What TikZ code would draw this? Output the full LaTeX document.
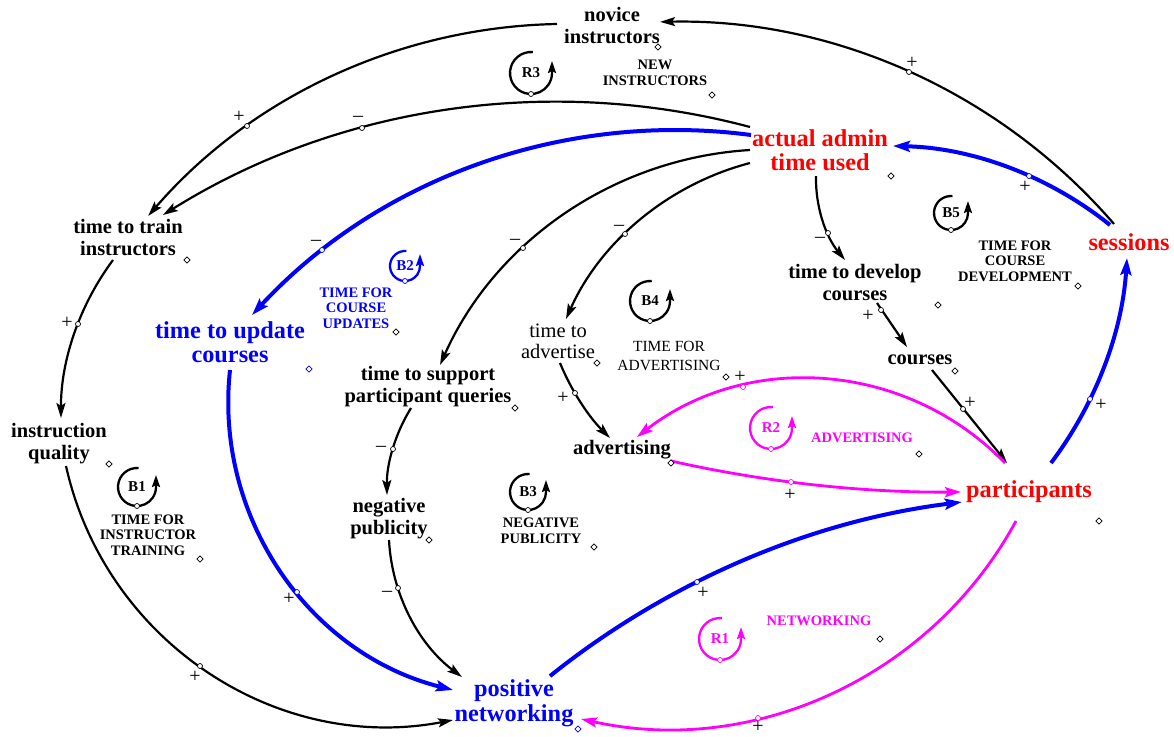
\documentclass[tikz,border=0pt]{standalone}
\usepackage{fontspec}
\setmainfont{Liberation Serif}
\usetikzlibrary{arrows.meta,calc}
\definecolor{vred}{RGB}{255,0,0}
\definecolor{vblue}{RGB}{0,0,255}
\definecolor{vmag}{RGB}{255,0,255}
\tikzset{
  lbl/.style={font=\bfseries\fontsize{20.5}{22}\selectfont, align=center, inner sep=0pt},
  lblr/.style={font=\fontsize{20.5}{21}\selectfont, align=center, inner sep=0pt},
  big/.style={font=\bfseries\fontsize{24.3}{24.5}\selectfont, align=center, inner sep=0pt},
  lname/.style={font=\bfseries\fontsize{14.5}{15.5}\selectfont, align=center, inner sep=0pt},
  lnamer/.style={font=\fontsize{15.5}{19}\selectfont, align=center, inner sep=0pt},
  lid/.style={font=\bfseries\fontsize{15}{15}\selectfont, inner sep=0pt},
  sgn/.style={font=\fontsize{20}{20}\selectfont, inner sep=0pt},
  hd/.style={circle, draw=#1, fill=white, line width=0.7pt, inner sep=0pt, minimum size=5pt},
  hd/.default=black,
  dm/.style={rectangle, rotate=45, draw=#1, fill=white, line width=0.7pt, inner sep=0pt, minimum size=4.5pt},
  dm/.default=black,
  barr/.style={line width=2.2pt, -{Stealth[length=15pt,width=9pt,inset=3pt]}},
  blarr/.style={vblue, line width=4pt, -{Stealth[length=17pt,width=11pt,inset=3pt]}},
  marr/.style={vmag, line width=2.8pt, -{Stealth[length=16pt,width=10pt,inset=3pt]}},
}
\newcommand{\mkloop}[6]{%
  \node[lid, text=#5] (#1) at (#2,#3) {#6};
  \draw[#5, line width=2.3pt, -{Stealth[length=12pt,width=8pt,inset=2pt]}] ($(#1)+(-85:#4)$) arc[start angle=-85, end angle=-360, radius=#4] -- ++(0,-12);
  \node[hd=#5] (#1h) at ($(#1)+(90:#4)$) {};
}
\begin{document}
\begin{tikzpicture}[x=1pt, y=-1pt]
\fill[white] (0,0) rectangle (1174,736);
\useasboundingbox (0,0) rectangle (1174,736);

% variables
\node[lbl] (nov) at (612,26) {novice\\instructors};
\node[big, text=vred] (act) at (820,150) {actual admin\\time used};
\node[big, text=vred] (ses) at (1129,242) {sessions};
\node[lbl] (ttt) at (128,238) {time to train\\instructors};
\node[big, text=vblue] (ttu) at (230,342) {time to update\\courses};
\node[lbl] (tsq) at (428,387) {time to support\\participant queries};
\node[lblr] (tta) at (558,341) {time to\\advertise};
\node[lbl] (tdc) at (855,283) {time to develop\\courses};
\node[lbl] (crs) at (920,360) {courses};
\node[lbl] (iq) at (59,444) {instruction\\quality};
\node[lbl] (np) at (389,519) {negative\\publicity};
\node[lbl] (adv) at (622,450) {advertising};
\node[big, text=vred] (par) at (1029,492) {participants};
\node[big, text=vblue] (pn) at (514,703) {positive\\networking};

% loop names
\node[lname] (newi) at (655,73) {NEW\\INSTRUCTORS};
\node[lname, text=vblue] (tcu) at (356,308) {TIME FOR\\COURSE\\UPDATES};
\node[lnamer] (tfa) at (669,356) {TIME FOR\\ADVERTISING};
\node[lname] (tcd) at (1015,261) {TIME FOR\\COURSE\\DEVELOPMENT};
\node[lname] (tit) at (148,535) {TIME FOR\\INSTRUCTOR\\TRAINING};
\node[lname] (npl) at (541,531) {NEGATIVE\\PUBLICITY};
\node[lname, text=vmag] (advl) at (862,438) {ADVERTISING};
\node[lname, text=vmag] (netl) at (819,621) {NETWORKING};

% loop markers
\mkloop{R3}{531}{73}{21}{black}{R3}
\mkloop{B2}{405}{266}{15}{vblue}{B2}
\mkloop{B4}{650}{301}{20}{black}{B4}
\mkloop{B5}{951}{213}{17}{black}{B5}
\mkloop{B1}{137}{487}{19}{black}{B1}
\mkloop{B3}{528}{492}{18}{black}{B3}
\mkloop{R2}{771}{428}{21}{vmag}{R2}
\mkloop{R1}{720}{639}{21}{vmag}{R1}

% connectors
\draw[barr] ($(ses)+(-15,-18)$) arc[start angle=-40.8, end angle=-91.2, radius=583.5];
\draw[barr] ($(nov)+(-55,-2)$) arc[start angle=-91.1, end angle=-139.2, radius=554.1];
\draw[barr] ($(act)+(-70,-23)$) arc[start angle=-75.06, end angle=-122.0, radius=745.3];
\draw[blarr] ($(act)+(-69,-15)$) arc[start angle=-82.48, end angle=-137.19, radius=577.2];
\draw[barr] ($(act)+(-70,0)$) arc[start angle=-93.45, end angle=-156.04, radius=363.1];
\draw[barr] ($(act)+(-70,13)$) arc[start angle=-104.65, end angle=-155.93, radius=278.76];
\draw[barr] ($(act)+(-4,26)$) arc[start angle=181.26, end angle=140.64, radius=128.03];
\draw[blarr] ($(ses)+(-19,-17)$) arc[start angle=-51.26, end angle=-88.73, radius=359.55];
\draw[barr] ($(tdc)+(22,20)$) -- ($(crs)+(-13,-13)$);
\draw[barr] ($(crs)+(12,10)$) -- ($(par)+(-22,-29)$);
\draw[blarr] ($(par)+(22,-29)$) arc[start angle=36.99, end angle=3.69, radius=381.45];
\draw[marr] ($(par)+(-24,-29)$) arc[start angle=-44.09, end angle=-127.83, radius=276.4];
\draw[marr] ($(adv)+(49,11)$) arc[start angle=102.66, end angle=89.54, radius=1276.5];
\draw[barr] ($(tta)+(2,22)$) arc[start angle=157.62, end angle=135, radius=229.8];
\draw[barr] ($(tsq)+(-17,21)$) arc[start angle=211.69, end angle=179.15, radius=161.06];
\draw[barr] ($(np)+(0,21)$) arc[start angle=177.05, end angle=126.85, radius=182.97];
\draw[blarr] ($(ttu)+(0,28)$) arc[start angle=186.2, end angle=104.06, radius=296.8];
\draw[barr] ($(iq)+(7,22)$) arc[start angle=167.41, end angle=79.15, radius=332.4];
\draw[barr] ($(ttt)+(-15,22)$) arc[start angle=216.64, end angle=179.8, radius=263.2];
\draw[blarr] ($(pn)+(36,-27)$) arc[start angle=-128.69, end angle=-97.1, radius=821.3];
\draw[marr] ($(par)+(-13,29)$) arc[start angle=28.49, end angle=102.57, radius=396.7];

% connector handles
\node[hd] (h1) at (909,72) {};
\node[hd] (h2) at (247,126) {};
\node[hd] (h3) at (362,128) {};
\node[hd=vblue] (h4) at (322,250) {};
\node[hd] (h5) at (523,248) {};
\node[hd] (h6) at (625,234) {};
\node[hd] (h7) at (828,233) {};
\node[hd=vblue] (h8) at (1029,176) {};
\node[hd] (h9) at (881,310) {};
\node[hd] (h10) at (963,409) {};
\node[hd=vblue] (h11) at (1090,399) {};
\node[hd=vmag] (h12) at (743,387) {};
\node[hd=vmag] (h13) at (791,482) {};
\node[hd] (h14) at (575,393) {};
\node[hd] (h15) at (393,449) {};
\node[hd] (h16) at (398,588) {};
\node[hd=vblue] (h17) at (297,592) {};
\node[hd] (h18) at (200,666) {};
\node[hd] (h19) at (78,324) {};
\node[hd=vblue] (h20) at (697,582) {};
\node[hd=vmag] (h21) at (758,718) {};

% polarity signs
\node[sgn] (s1) at (912,63) {+};
\node[sgn] (s2) at (239,117) {+};
\node[sgn] (s3) at (358,119) {–};
\node[sgn] (s4) at (316,243) {–};
\node[sgn] (s5) at (515,242) {–};
\node[sgn] (s6) at (619,228) {–};
\node[sgn] (s7) at (820,240) {–};
\node[sgn] (s8) at (1025,187) {+};
\node[sgn] (s9) at (868,316) {+};
\node[sgn] (s10) at (970,403) {+};
\node[sgn] (s11) at (1101,405) {+};
\node[sgn] (s12) at (740,377) {+};
\node[sgn] (s13) at (790,495) {+};
\node[sgn] (s14) at (563,398) {+};
\node[sgn] (s15) at (381,449) {–};
\node[sgn] (s16) at (387,594) {–};
\node[sgn] (s17) at (289,599) {+};
\node[sgn] (s18) at (195,677) {+};
\node[sgn] (s19) at (67,323) {+};
\node[sgn] (s20) at (703,593) {+};
\node[sgn] (s21) at (758,727) {+};

% variable handles
\node[dm] (d1) at (658,47) {};
\node[dm] (d2) at (712,95) {};
\node[dm] (d3) at (891,176) {};
\node[dm] (d4) at (1078,286) {};
\node[dm] (d5) at (938,305) {};
\node[dm] (d6) at (187,260) {};
\node[dm] (d7) at (396,332) {};
\node[dm=vblue] (d8) at (309,369) {};
\node[dm] (d9) at (515,408) {};
\node[dm] (d10) at (597,363) {};
\node[dm] (d11) at (726,377) {};
\node[dm] (d12) at (955,371) {};
\node[dm] (d13) at (919,454) {};
\node[dm] (d14) at (1099,521) {};
\node[dm] (d15) at (109,464) {};
\node[dm] (d16) at (200,559) {};
\node[dm] (d17) at (429,540) {};
\node[dm] (d18) at (594,547) {};
\node[dm=vblue] (d19) at (578,729) {};
\node[dm] (d20) at (880,639) {};
\node[dm] (d21) at (671,463) {};
\end{tikzpicture}
\end{document}
